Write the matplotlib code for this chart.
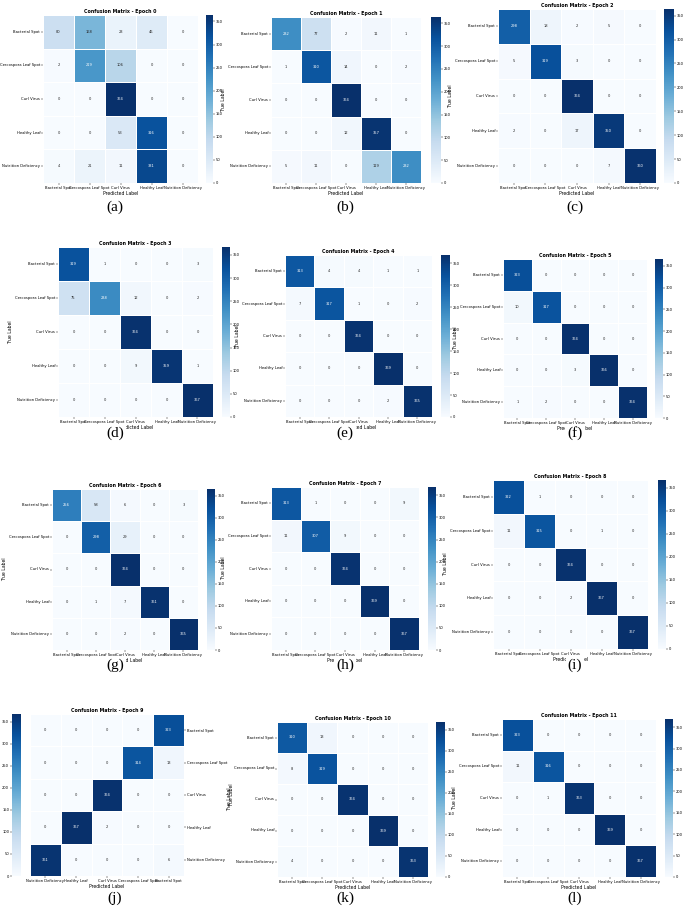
import matplotlib
matplotlib.use('Agg')
import matplotlib.pyplot as plt
import seaborn as sns
import numpy as np

classes = ['Bacterial Spot', 'Cercospora Leaf Spot', 'Curl Virus', 'Healthy Leaf', 'Nutrition Deficiency']

cm_epoch0 = [[80, 168, 23, 46, 0], [2, 219, 106, 0, 0], [0, 0, 364, 0, 0], [0, 0, 53, 316, 0], [4, 21, 11, 331, 0]]
cm_epoch1 = [[232, 77, 2, 11, 1], [1, 310, 14, 0, 2], [0, 0, 364, 0, 0], [0, 0, 12, 357, 0], [5, 11, 0, 119, 232]]
cm_epoch2 = [[298, 18, 2, 5, 0], [5, 319, 3, 0, 0], [0, 0, 364, 0, 0], [2, 0, 17, 350, 0], [0, 0, 0, 7, 360]]
cm_epoch3 = [[319, 1, 0, 0, 3], [75, 238, 12, 0, 2], [0, 0, 364, 0, 0], [0, 0, 9, 359, 1], [0, 0, 0, 0, 367]]
cm_epoch4 = [[313, 4, 4, 1, 1], [7, 317, 1, 0, 2], [0, 0, 364, 0, 0], [0, 0, 0, 369, 0], [0, 0, 0, 2, 365]]
cm_epoch5 = [[323, 0, 0, 0, 0], [10, 317, 0, 0, 0], [0, 0, 364, 0, 0], [0, 0, 3, 366, 0], [1, 2, 0, 0, 364]]
cm_epoch6 = [[256, 58, 6, 0, 3], [0, 298, 29, 0, 0], [0, 0, 364, 0, 0], [0, 1, 7, 361, 0], [0, 0, 2, 0, 365]]
cm_epoch7 = [[313, 1, 0, 0, 9], [11, 307, 9, 0, 0], [0, 0, 364, 0, 0], [0, 0, 0, 369, 0], [0, 0, 0, 0, 367]]
cm_epoch8 = [[322, 1, 0, 0, 0], [11, 315, 0, 1, 0], [0, 0, 364, 0, 0], [0, 0, 2, 367, 0], [0, 0, 0, 0, 367]]
cm_epoch9 = [[323, 0, 0, 0, 0], [13, 314, 0, 0, 0], [0, 0, 364, 0, 0], [0, 0, 2, 367, 0], [6, 0, 0, 0, 361]]
cm_epoch10 = [[310, 13, 0, 0, 0], [8, 319, 0, 0, 0], [0, 0, 364, 0, 0], [0, 0, 0, 369, 0], [4, 0, 0, 0, 363]]
cm_epoch11 = [[323, 0, 0, 0, 0], [11, 316, 0, 0, 0], [0, 1, 363, 0, 0], [0, 0, 0, 369, 0], [0, 0, 0, 0, 367]]

matrices = [cm_epoch0, cm_epoch1, cm_epoch2, cm_epoch3, cm_epoch4, cm_epoch5,
            cm_epoch6, cm_epoch7, cm_epoch8, cm_epoch9, cm_epoch10, cm_epoch11]
letters = ['(a)', '(b)', '(c)', '(d)', '(e)', '(f)', '(g)', '(h)', '(i)', '(j)', '(k)', '(l)']

# pixel boxes: heatmap (x0, y0, x1, y1), colorbar (x0, x1), caption y
heat_px = [(43, 15, 198, 183), (271, 17, 421, 183), (498, 9, 656, 183),
           (58, 247, 213, 417), (285, 255, 432, 417), (503, 259, 647, 418),
           (52, 489, 198, 650), (271, 487, 419, 650), (493, 480, 648, 649),
           (30, 714, 184, 876), (277, 722, 428, 877), (502, 719, 656, 877)]
cbar_px = [(206, 213), (431, 441), (664, 674),
           (222, 230), (441, 450), (655, 663),
           (207, 215), (428, 436), (658, 666),
           (12, 21), (436, 445), (665, 673)]
cap_y = [207, 207, 207, 433, 433, 433, 665, 665, 665, 898, 898, 898]
cap_x = [115, 345, 575]

W, H = 685, 911
fig = plt.figure(figsize=(W / 100, H / 100), dpi=100)

def rect(x0, y0, x1, y1):
    return [x0 / W, 1 - y1 / H, (x1 - x0) / W, (y1 - y0) / H]

for i, cm in enumerate(matrices):
    x0, y0, x1, y1 = heat_px[i]
    ax = fig.add_axes(rect(x0, y0, x1, y1))
    cax = fig.add_axes(rect(cbar_px[i][0], y0, cbar_px[i][1], y1))
    sns.heatmap(np.array(cm), annot=True, fmt='d', cmap='Blues', ax=ax, cbar_ax=cax,
                xticklabels=classes, yticklabels=classes,
                linewidths=0.4, linecolor='white', annot_kws={'fontsize': 2.6})
    ax.set_title('Confusion Matrix - Epoch %d' % i, fontsize=3.4, fontweight='bold', pad=1.5)
    ax.set_xlabel('Predicted Label', fontsize=3.3, labelpad=0.8)
    ax.set_ylabel('True Label', fontsize=3.3, labelpad=1.5)
    ax.tick_params(labelsize=2.7, length=1.2, width=0.3, pad=0.8)
    cax.tick_params(labelsize=2.6, length=1.2, width=0.3, pad=0.8)
    for s in cax.spines.values():
        s.set_visible(False)
    if i == 9:
        # mirrored panel
        ax.invert_xaxis()
        ax.yaxis.tick_right()
        ax.yaxis.set_label_position('right')
        cax.yaxis.tick_left()
    plt.setp(ax.get_xticklabels(), rotation=0)
    plt.setp(ax.get_yticklabels(), rotation=0)
    fig.text(cap_x[i % 3] / W, 1 - cap_y[i] / H, letters[i], ha='center', va='center',
             fontsize=11, family='Liberation Serif', zorder=10,
             bbox=dict(facecolor='white', edgecolor='none', pad=1.5))

fig.savefig('out.png', dpi=100, facecolor='white')
